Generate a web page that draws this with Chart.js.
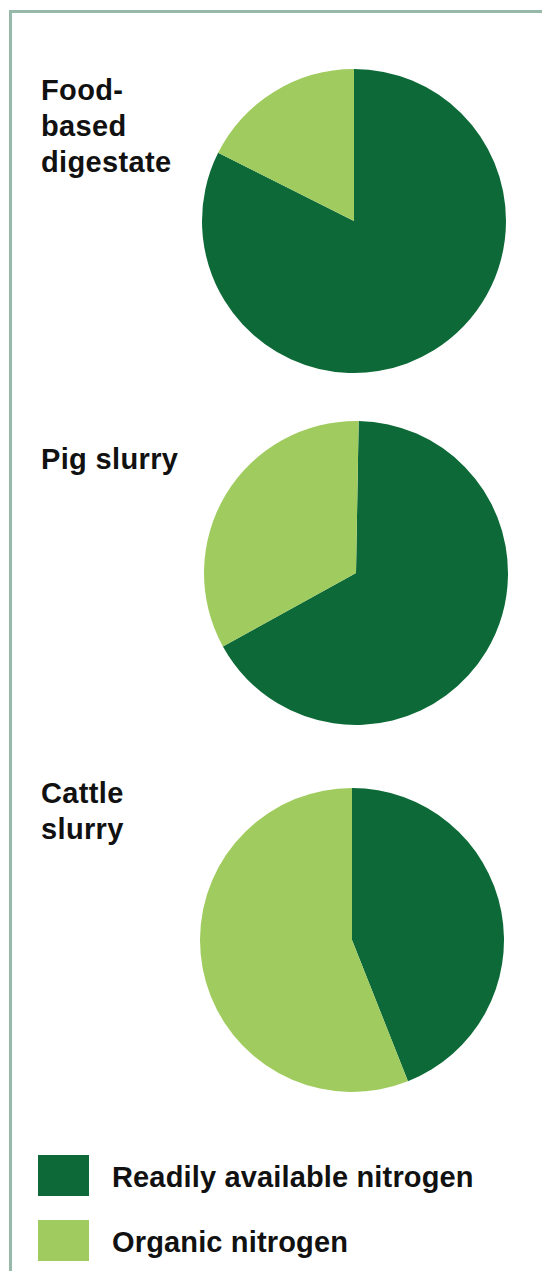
<!DOCTYPE html>
<html>
<head>
<meta charset="utf-8">
<script src="https://cdn.jsdelivr.net/npm/chart.js@4/dist/chart.umd.min.js"></script>
<style>
  html, body { margin: 0; padding: 0; background: #fff; }
  body { width: 542px; height: 1271px; position: relative; overflow: hidden;
         font-family: "Liberation Sans", Arial, sans-serif; font-weight: bold; color: #111; }
  .marco { position: absolute; left: 9px; top: 10px; right: 0; bottom: 0;
           border-top: 3px solid #96b9aa; border-left: 3px solid #96b9aa; }
  .etiqueta { position: absolute; left: 41px; font-size: 29px; line-height: 36px; letter-spacing: 0.35px; }
  .pastel { position: absolute; }
  .leyenda-caja { position: absolute; left: 38px; width: 51px; height: 41px; }
  .leyenda-texto { position: absolute; left: 112px; font-size: 29px; line-height: 36px; letter-spacing: 0.15px; }
</style>
</head>
<body>
<div class="marco"></div>

<script>
// Datos de las gráficas (porcentaje del nitrógeno total)
const categorias = ['Food-based digestate', 'Pig slurry', 'Cattle slurry'];
const lineasCategoria = [['Food-', 'based', 'digestate'], ['Pig slurry'], ['Cattle', 'slurry']];
const series = ['Readily available nitrogen', 'Organic nitrogen'];
const nitrogenoDisponible = [82.4, 66.7, 44];
const nitrogenoOrganico = [17.6, 33.3, 56];
const rotaciones = [0, 1, 0];

const COLORES = ['#0d6a38', '#a0cc5f'];

// Posiciones de cada pastel (centro) y su etiqueta
const centros = [[354, 221], [356, 573], [352, 940]];
const topEtiquetas = [72, 441, 775];
const RADIO = 152;
const TAM = 320;

categorias.forEach((cat, i) => {
  // etiqueta a la izquierda
  const et = document.createElement('div');
  et.className = 'etiqueta';
  et.style.top = topEtiquetas[i] + 'px';
  et.innerHTML = lineasCategoria[i].join('<br>');
  document.body.appendChild(et);

  // lienzo del pastel
  const canvas = document.createElement('canvas');
  canvas.className = 'pastel';
  canvas.width = TAM;
  canvas.height = TAM;
  canvas.style.left = (centros[i][0] - TAM / 2) + 'px';
  canvas.style.top = (centros[i][1] - TAM / 2) + 'px';
  canvas.style.width = TAM + 'px';
  canvas.style.height = TAM + 'px';
  document.body.appendChild(canvas);

  new Chart(canvas.getContext('2d'), {
    type: 'pie',
    data: {
      labels: series,
      datasets: [{
        label: cat,
        data: [nitrogenoDisponible[i], nitrogenoOrganico[i]],
        backgroundColor: COLORES,
        borderWidth: 0,
        hoverOffset: 0
      }]
    },
    options: {
      responsive: false,
      animation: false,
      rotation: rotaciones[i],
      radius: RADIO,
      layout: { padding: 0 },
      plugins: {
        legend: { display: false },
        tooltip: { enabled: false }
      }
    }
  });
});

// Leyenda
const topsCaja = [1155, 1220];
series.forEach((s, i) => {
  const caja = document.createElement('div');
  caja.className = 'leyenda-caja';
  caja.style.top = topsCaja[i] + 'px';
  caja.style.background = COLORES[i];
  document.body.appendChild(caja);

  const txt = document.createElement('div');
  txt.className = 'leyenda-texto';
  txt.style.top = (topsCaja[i] + 4) + 'px';
  txt.textContent = s;
  document.body.appendChild(txt);
});
</script>
</body>
</html>
